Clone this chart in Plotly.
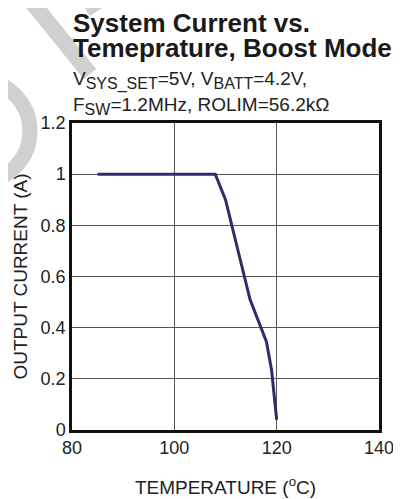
import plotly.graph_objects as go

# Data
temperature = [85, 108, 110, 111.2, 114.8, 118, 119, 120]
output_current = [1.0, 1.0, 0.9, 0.8, 0.51, 0.345, 0.235, 0.04]

x_ticks = [80, 100, 120, 140]
y_ticks = [0, 0.2, 0.4, 0.6, 0.8, 1.0, 1.2]
y_tick_text = ["0", "0.2", "0.4", "0.6", "0.8", "1", "1.2"]

# page body has an 8px margin -> figure is 8px smaller than the window on each axis
OFF = 8
W, H = 401 - OFF, 499 - OFF
ML, MR, MT, MB = 72 - OFF, 22, 123 - OFF, 69
PW, PH = W - ML - MR, H - MT - MB


def px(x):  # reference-window pixel -> paper
    return (x - OFF - ML) / PW


def py(y):
    return (H - MB - (y - OFF)) / PH


FONT = "Liberation Sans, Arial, Helvetica, sans-serif"
WM = "#d0d0d0"
SUB = '<sub><span style="font-size:16px">{}</span></sub>'

fig = go.Figure()
fig.add_trace(go.Scatter(
    x=temperature, y=output_current, mode="lines",
    line=dict(color="#2b2e6b", width=3),
    showlegend=False, hoverinfo="skip",
))

shapes = [
    # watermark fragments
    dict(type="line", xref="paper", yref="paper",
         x0=px(22), y0=py(-10), x1=px(90), y1=py(74),
         line=dict(color=WM, width=16), layer="below"),
    dict(type="line", xref="paper", yref="paper",
         x0=px(86), y0=py(10), x1=px(118), y1=py(-10),
         line=dict(color=WM, width=14), layer="below"),
    dict(type="circle", xref="paper", yref="paper",
         x0=px(-72), y0=py(80), x1=px(30), y1=py(182),
         line=dict(color=WM, width=15), layer="below"),
]

annotations = [
    dict(text="<b>System Current vs.</b>", x=px(71), y=py(23), xref="paper", yref="paper",
         xanchor="left", yanchor="middle", showarrow=False,
         font=dict(family=FONT, size=26, color="#1a1a1a")),
    dict(text="<b>Temeprature, Boost Mode</b>", x=px(71), y=py(48), xref="paper", yref="paper",
         xanchor="left", yanchor="middle", showarrow=False,
         font=dict(family=FONT, size=26, color="#1a1a1a")),
    dict(text="V" + SUB.format("SYS_SET") + "=5V, V" + SUB.format("BATT") + "=4.2V,",
         x=px(71), y=py(81), xref="paper", yref="paper",
         xanchor="left", yanchor="middle", showarrow=False,
         font=dict(family=FONT, size=19, color="#222222")),
    dict(text="F" + SUB.format("SW") + "=1.2MHz, ROLIM=56.2kΩ",
         x=px(71), y=py(106), xref="paper", yref="paper",
         xanchor="left", yanchor="middle", showarrow=False,
         font=dict(family=FONT, size=19, color="#222222")),
]

fig.update_layout(
    width=W, height=H,
    margin=dict(l=ML, r=MR, t=MT, b=MB, pad=0),
    paper_bgcolor="white", plot_bgcolor="white",
    font=dict(family=FONT, color="#222222"),
    shapes=shapes, annotations=annotations,
)
fig.update_xaxes(
    range=[80, 140], tickvals=x_ticks, ticks="", automargin=False,
    showgrid=True, gridcolor="#555555", gridwidth=1,
    showline=True, mirror=True, linecolor="#111111", linewidth=2.5,
    zeroline=False, tickfont=dict(size=18, color="#222222"),
    title=dict(text="TEMPERATURE (<sup>o</sup>C)", font=dict(size=19, color="#222222"), standoff=24),
)
fig.update_yaxes(
    range=[0, 1.2], tickvals=y_ticks, ticktext=y_tick_text, ticks="", automargin=False,
    showgrid=True, gridcolor="#555555", gridwidth=1,
    showline=True, mirror=True, linecolor="#111111", linewidth=2.5,
    zeroline=False, tickfont=dict(size=18, color="#222222"),
    title=dict(text="OUTPUT CURRENT (A)", font=dict(size=19, color="#222222"), standoff=8),
)

fig.write_html("out.html")
